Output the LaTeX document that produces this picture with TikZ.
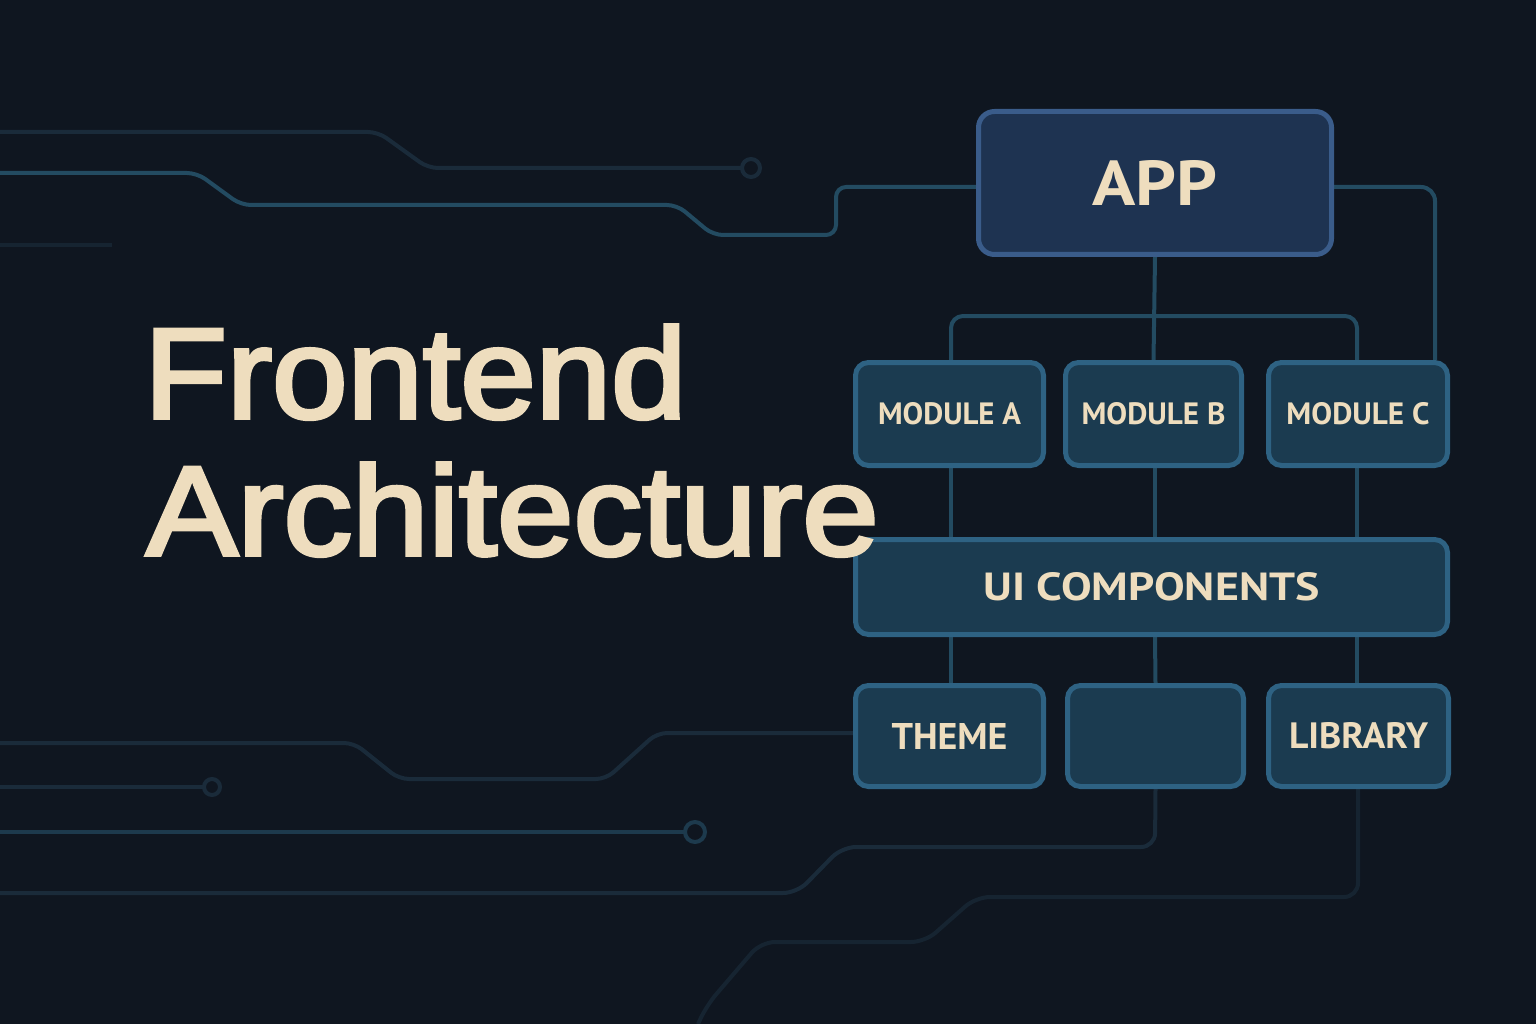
\documentclass[tikz,border=0pt]{standalone}
\usepackage{graphicx}
\usepackage{fontspec}
\usetikzlibrary{calc}
\setmainfont{Liberation Sans}
\newfontfamily\titlefont[FakeBold=3]{Liberation Sans}
\newfontfamily\boxfont{PT Sans}
\newcommand{\fitlbl}[3]{\resizebox{#1pt}{#2pt}{#3}}
\definecolor{bgc}{HTML}{0F1620}
\definecolor{cream}{HTML}{EEDDBE}
\definecolor{appfill}{HTML}{1E3351}
\definecolor{appedge}{HTML}{3A5C8A}
\definecolor{modfill}{HTML}{1B3B50}
\definecolor{modedge}{HTML}{2E6283}
\definecolor{linec}{HTML}{234B61}
\definecolor{linemid}{HTML}{1D3A4D}
\definecolor{linedark}{HTML}{1A2B3A}
\definecolor{linefaint}{HTML}{162431}
\pgfdeclarelayer{background}
\pgfsetlayers{background,main}
\tikzset{
  modbox/.style={draw=modedge, fill=modfill, line width=5pt, rounded corners=13pt,
    inner sep=0pt, text=cream, font=\boxfont\bfseries},
  appbox/.style={modbox, draw=appedge, fill=appfill, rounded corners=16pt},
  conn/.style={draw=linec, line width=4pt, rounded corners=12pt},
  trace/.style={line width=4pt, rounded corners=10pt},
  ring/.style={line width=4pt},
  titletext/.style={anchor=base west, inner sep=0pt, text=cream}
}
\begin{document}
\begin{tikzpicture}[x=1pt, y=-1pt]
\useasboundingbox (0,0) rectangle (1536,1024);
\begin{pgfonlayer}{background}
\fill[bgc] (0,0) rectangle (1536,1024);
\end{pgfonlayer}

% boxes
\node[appbox, minimum width=353pt, minimum height=143pt] (app) at (1155,183)
  {\fitlbl{125}{45}{APP}};
\node[modbox, minimum width=188pt, minimum height=103pt] (modA) at (949.5,414)
  {\fitlbl{143}{22}{MODULE A}};
\node[modbox, minimum width=176pt, minimum height=103pt] (modB) at (1153.5,414)
  {\fitlbl{144}{22}{MODULE B}};
\node[modbox, minimum width=179pt, minimum height=103pt] (modC) at (1358,414)
  {\fitlbl{143}{22}{MODULE C}};
\node[modbox, minimum width=592pt, minimum height=95pt] (ui) at (1151.5,587)
  {\fitlbl{336}{28}{UI COMPONENTS}};
\node[modbox, minimum width=188pt, minimum height=101pt] (theme) at (949.5,736)
  {\fitlbl{116}{26}{THEME}};
\node[modbox, minimum width=176pt, minimum height=101pt] (empty) at (1155.5,736) {};
\node[modbox, minimum width=180pt, minimum height=101pt] (lib) at (1358.5,736)
  {\fitlbl{139}{26}{LIBRARY}};

% title
\node[titletext] (t1) at (144,418) {\fitlbl{542}{93}{\titlefont Frontend}};
\node[titletext] (t2) at (146,555) {\fitlbl{732}{92}{\titlefont Architecture}};

% named points for traces
\coordinate (ring1) at (751,168);
\coordinate (ring2) at (212,787);
\coordinate (ring3) at (695,832);
\coordinate (bus) at (1155,316);

\begin{pgfonlayer}{background}
% tree connectors
\draw[conn] (app.south) -- (modB.north);
\draw[conn] (modA.north -| 951,0) |- (bus) -| (modC.north -| 1357,0);
\draw[conn] (modA.south -| 951,0) -- (ui.north -| 951,0);
\draw[conn] (modB.south -| 1155,0) -- (ui.north -| 1155,0);
\draw[conn] (modC.south -| 1357,0) -- (ui.north -| 1357,0);
\draw[conn] (ui.south -| 951,0) -- (theme.north -| 951,0);
\draw[conn] (ui.south -| 1155,0) -- (empty.north);
\draw[conn] (ui.south -| 1357,0) -- (lib.north -| 1357,0);
\draw[conn, rounded corners=14pt] (app.east |- 0,187) -- (1435,187) -- (modC.north -| 1435,0);

% top-left traces
\draw[trace, linedark] (0,132) -- (378,132) -- (428,168) -- ($(ring1)+(-9,0)$);
\draw[ring, linedark] (ring1) circle[radius=9pt];
\draw[trace, linec] (0,173) -- (197,173) -- (241,205) -- (677,205) -- (713,235)
  -- (836,235) -- (836,187) -- (app.west |- 0,187);
\draw[trace, linefaint] (0,245) -- (112,245);

% bottom-left traces
\draw[trace, linedark] (0,743) -- (354,743) -- (399,779) -- (606,779) -- (657,733)
  -- (theme.west |- 0,733);
\draw[trace, linedark] (0,787) -- ($(ring2)+(-8,0)$);
\draw[ring, linedark] (ring2) circle[radius=8pt];
\draw[trace, linemid] (0,832) -- ($(ring3)+(-10,0)$);
\draw[ring, linemid] (ring3) circle[radius=10pt];
\draw[trace, linedark, rounded corners=14pt] (empty.south) -- (1155,847) -- (842,847)
  -- (797,893) -- (0,893);
\draw[trace, linefaint, rounded corners=14pt] (lib.south -| 1358,0) -- (1358,897)
  -- (976,897) -- (925,942) -- (761,942) -- (707,1005) -- (698,1024);
\end{pgfonlayer}
\end{tikzpicture}
\end{document}
